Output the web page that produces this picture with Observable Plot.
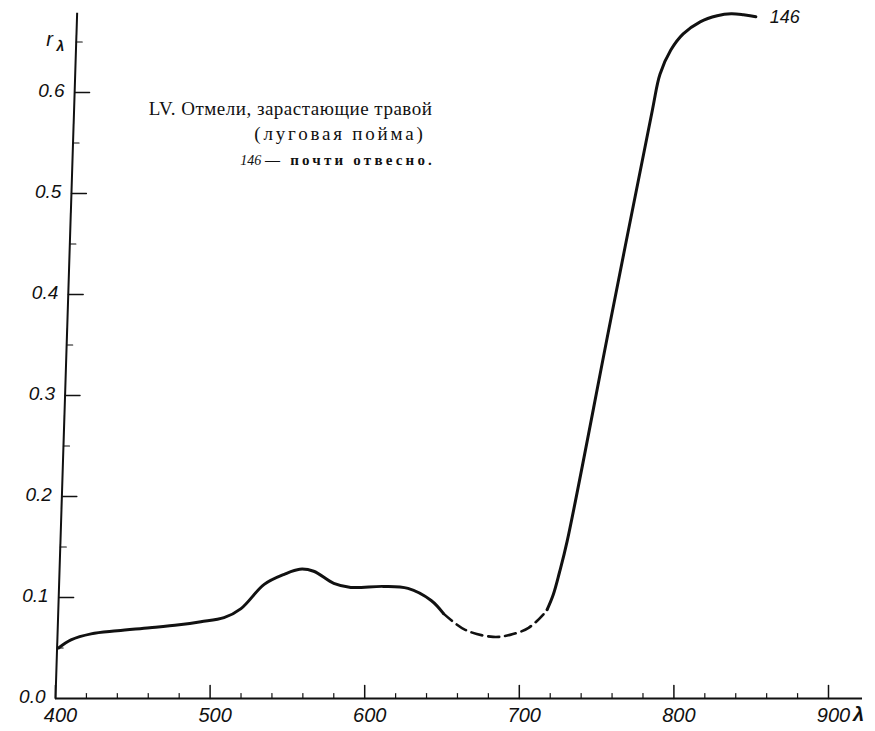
<!DOCTYPE html>
<html>
<head>
<meta charset="utf-8">
<script src="https://cdn.jsdelivr.net/npm/d3@7"></script>
<script src="https://cdn.jsdelivr.net/npm/@observablehq/plot@0.6"></script>
<style>
  html, body { margin: 0; padding: 0; background: #fff; }
  #chart svg { display: block; }
</style>
</head>
<body>
<div id="chart"></div>
<script>
// Wavelength (nm) and reflectance r_λ
const solidA_nm = [402, 410, 423, 440, 461, 480, 494, 509, 520, 535, 548, 558, 567, 580, 591, 612, 628, 643, 651];
const solidA_r  = [0.050, 0.058, 0.064, 0.067, 0.070, 0.073, 0.076, 0.080, 0.089, 0.113, 0.123, 0.128, 0.126, 0.114, 0.110, 0.111, 0.109, 0.097, 0.084];

const dashed_nm = [651, 665, 683, 694, 706, 716, 718];
const dashed_r  = [0.084, 0.068, 0.061, 0.063, 0.070, 0.084, 0.088];

const solidB_nm = [718, 722, 726, 731, 759, 786, 791, 798, 806, 817, 828, 837, 845, 853];
const solidB_r  = [0.088, 0.103, 0.125, 0.156, 0.374, 0.582, 0.618, 0.642, 0.658, 0.670, 0.676, 0.678, 0.677, 0.675];

const xTickLabels = [400, 500, 600, 700, 800, 900];
const xMinorTicks = [420, 440, 460, 480, 520, 540, 560, 580, 620, 640, 660, 680, 720, 740, 760, 780, 820, 840, 860, 880];
const yTickLabels = [0.0, 0.1, 0.2, 0.3, 0.4, 0.5, 0.6];
const yMinorTicks = [0.05, 0.15, 0.25, 0.35, 0.45, 0.55, 0.65];

const titleLines = ["LV. Отмели, зарастающие травой", "(луговая пойма)"];
const noteNumber = "146";
const noteText = "— почти отвесно.";
const curveLabel = "146";

const toRows = (xs, ys) => xs.map((x, i) => ({x, y: ys[i]}));
const solidA = toRows(solidA_nm, solidA_r);
const dashed = toRows(dashed_nm, dashed_r);
const solidB = toRows(solidB_nm, solidB_r);

// the hand-drawn vertical axis leans slightly to the right as it rises
const yTop = 0.679;
const axisLean = 14; // nm of lean over the full axis height
const axisX = r => 400 + axisLean * r / yTop;

const tickShape = {
  draw(context, l) { context.moveTo(0, 0); context.lineTo(0, -l); }
};

const labelFont = "'Liberation Sans', 'DejaVu Sans', sans-serif";
const serifFont = "'Liberation Serif', 'DejaVu Serif', serif";

const chart = Plot.plot({
  width: 875,
  height: 731,
  marginTop: 0, marginRight: 0, marginBottom: 0, marginLeft: 0,
  x: {domain: [400, 900], range: [55, 828], axis: null},
  y: {domain: [0, 0.6], range: [698, 92], axis: null},
  style: {background: "#fff", color: "#111"},
  marks: [
    // axis lines
    Plot.ruleY([0], {x1: 400, x2: 922, stroke: "#111", strokeWidth: 2}),
    Plot.link([0], {x1: axisX(0), y1: 0, x2: axisX(yTop), y2: yTop, stroke: "#111", strokeWidth: 2}),
    // x ticks (pointing up)
    Plot.vector(xTickLabels, {x: d => d, y: 0, length: 13, rotate: 0, anchor: "start", shape: tickShape, stroke: "#111", strokeWidth: 1.5}),
    Plot.vector(xMinorTicks, {x: d => d, y: 0, length: 5, rotate: 0, anchor: "start", shape: tickShape, stroke: "#111", strokeWidth: 1.2}),
    // y ticks (pointing right)
    Plot.vector(yTickLabels.filter(d => d > 0), {x: d => axisX(d), y: d => d, length: 15, rotate: 90, anchor: "start", shape: tickShape, stroke: "#111", strokeWidth: 1.3}),
    Plot.vector(yMinorTicks, {x: d => axisX(d), y: d => d, length: 6, rotate: 90, anchor: "start", shape: tickShape, stroke: "#111", strokeWidth: 1.2}),
    // tick labels
    Plot.text(xTickLabels, {x: d => d, y: 0, text: d => String(d), dy: 17, dx: 5, fontSize: 20, fontStyle: "italic", fontFamily: labelFont, fill: "#111"}),
    Plot.text(yTickLabels, {x: d => axisX(d), y: d => d, text: d => d.toFixed(1), dx: -10, dy: -2, textAnchor: "end", fontSize: 19, fontStyle: "italic", fontFamily: labelFont, fill: "#111"}),
    Plot.text(["λ"], {x: 900, y: 0, text: d => d, dx: 30, dy: 16, fontSize: 20, fontStyle: "italic", fontWeight: "bold", fontFamily: labelFont, fill: "#111"}),
    Plot.text(["r"], {x: 400, y: 0.65, text: d => d, dx: -6, dy: -2, fontSize: 20, fontStyle: "italic", fontFamily: labelFont, fill: "#111"}),
    Plot.text(["λ"], {x: 400, y: 0.65, text: d => d, dx: 5, dy: 5, fontSize: 14, fontStyle: "italic", fontWeight: "bold", fontFamily: labelFont, fill: "#111"}),
    // curve
    Plot.line(solidA, {x: "x", y: "y", curve: "catmull-rom", stroke: "#111", strokeWidth: 3}),
    Plot.line(dashed, {x: "x", y: "y", curve: "catmull-rom", stroke: "#111", strokeWidth: 2.6, strokeDasharray: "11,6"}),
    Plot.line(solidB, {x: "x", y: "y", curve: "catmull-rom", stroke: "#111", strokeWidth: 3}),
    Plot.text([curveLabel], {x: 853, y: 0.675, text: d => d, dx: 14, dy: 0, textAnchor: "start", fontSize: 18, fontStyle: "italic", fontFamily: labelFont, fill: "#111"}),
    // annotation
    Plot.text([titleLines[0]], {x: 552, y: 0.584, text: d => d, fontSize: 19, fontFamily: serifFont, fill: "#111"}),
    Plot.text([titleLines[1]], {x: 584, y: 0.559, text: d => d, fontSize: 19, fontFamily: serifFont, fill: "#111"}),
    Plot.text([noteNumber], {x: 519.5, y: 0.533, text: d => d, textAnchor: "start", fontSize: 14, fontStyle: "italic", fontFamily: serifFont, fill: "#111"}),
    Plot.text([noteText], {x: 535.5, y: 0.533, text: d => d, textAnchor: "start", fontSize: 15, fontWeight: "bold", fontFamily: serifFont, fill: "#111"})
  ]
});

// widen letter spacing of the annotation lines, as set in the printed original
const spacing = new Map([[titleLines[0], "0.5px"], [titleLines[1], "2.8px"], [noteText, "3.2px"]]);
d3.select(chart).selectAll("text").each(function() {
  const s = spacing.get(this.textContent);
  if (s) this.setAttribute("letter-spacing", s);
});

document.getElementById("chart").appendChild(chart);
</script>
</body>
</html>
